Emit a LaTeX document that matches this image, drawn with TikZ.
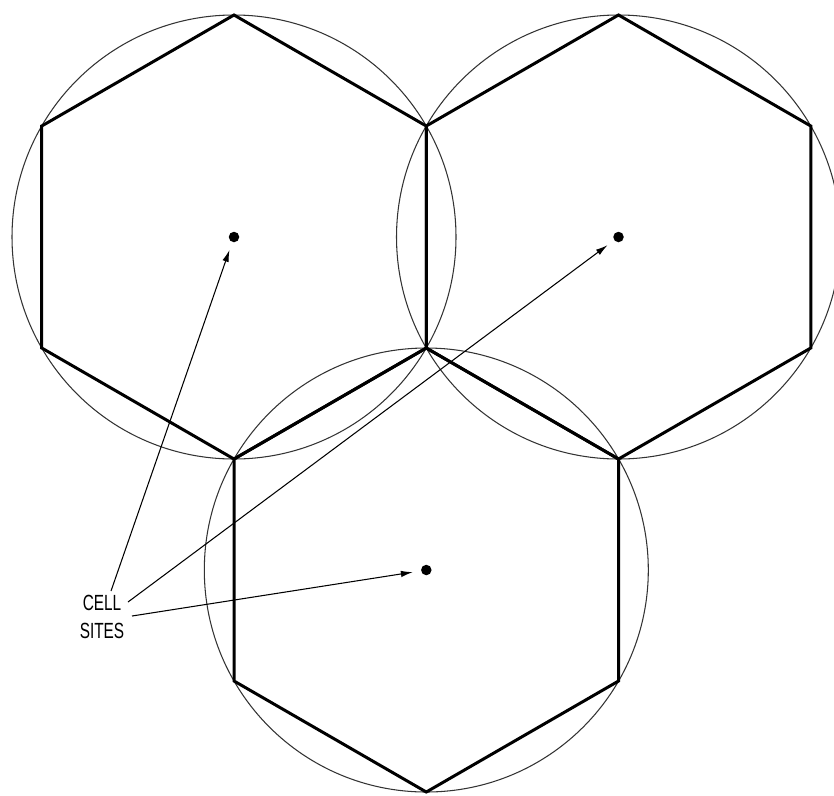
\documentclass[tikz,border=0pt]{standalone}
\usepackage{fontspec}
\setsansfont{Liberation Sans}
\usetikzlibrary{arrows.meta}

\tikzset{
  hexline/.style={line width=1.7pt, line join=miter},
  cellcircle/.style={line width=0.6pt, black!80},
  site/.style={circle, fill=black, inner sep=0pt, minimum size=2.1mm},
  pointer/.style={line width=0.6pt, -{Latex[length=2.4mm,width=1.3mm]}, shorten >=1.6mm}
}

\begin{document}
\begin{tikzpicture}[x=0.02cm, y=-0.02cm]
\useasboundingbox (0,0) rectangle (834,795);

% three cells
\foreach \cx/\cy/\n in {234/237/1, 618.5/237/2, 426.3/570/3}{
\draw[cellcircle] (\cx,\cy) circle (222);
\draw[hexline] (\cx,\cy) +(90:222) -- +(150:222) -- +(210:222) -- +(270:222) -- +(330:222) -- +(30:222) -- cycle;
\node[site] (s\n) at (\cx,\cy) {};
}

\node[font=\fontsize{12.5}{15}\selectfont\sffamily, align=center, inner sep=0pt] (label) at (102,617)
  {\scalebox{0.7}[1]{CELL}\\[1pt]\scalebox{0.7}[1]{SITES}};

\coordinate (a1) at (111,591);
\coordinate (a2) at (128,602);
\coordinate (a3) at (132,616);

\draw[pointer] (a1) -- (s1);
\draw[pointer] (a2) -- (s2);
\draw[pointer] (a3) -- (s3);
\end{tikzpicture}
\end{document}
